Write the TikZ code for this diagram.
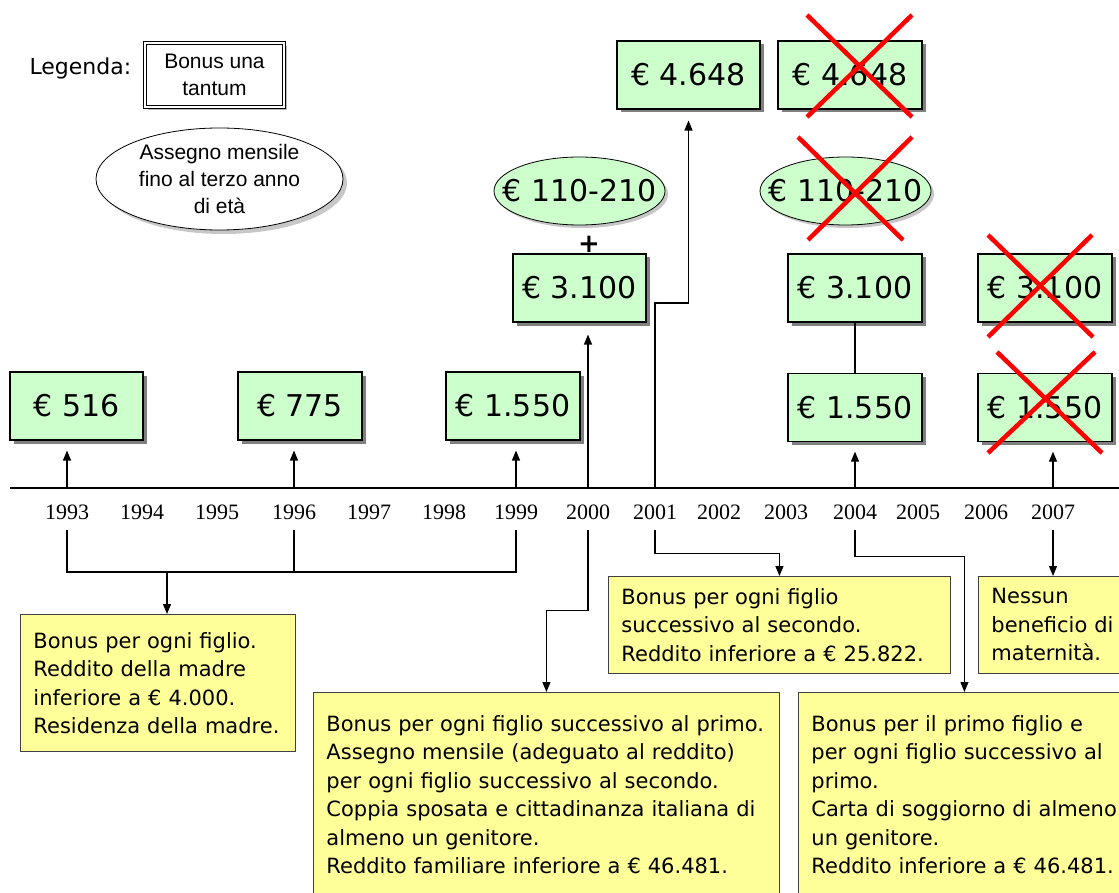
\documentclass[tikz,border=0pt]{standalone}
\usepackage{fontspec}
\setmainfont{DejaVu Sans}
\newfontfamily\arialfont{Liberation Sans}
\newfontfamily\timesfont{Liberation Serif}
\usetikzlibrary{arrows.meta, positioning, shapes.geometric, shadows}

\definecolor{verdino}{HTML}{CCFFCC}
\definecolor{giallino}{HTML}{FFFF99}
\definecolor{ombra}{HTML}{808080}

\begin{document}
\begin{tikzpicture}[
        x=1pt, y=-1pt,
        importo/.style={draw=black, line width=1.1pt, rectangle, fill=verdino, minimum width=133pt, minimum height=68pt, inner sep=0pt, font=\fontsize{30}{36}\selectfont, drop shadow={shadow xshift=3.5pt, shadow yshift=-3.5pt, fill=ombra, opacity=1}},
        mensile/.style={draw=black, line width=0.8pt, ellipse, fill=verdino, minimum width=171pt, minimum height=68pt, inner xsep=-30pt, inner ysep=0pt, font=\fontsize{30}{36}\selectfont, drop shadow={shadow xshift=3pt, shadow yshift=-3pt, fill=gray!55, opacity=0.8}},
        nota/.style={draw=black!75, line width=0.9pt, rectangle, fill=giallino, anchor=north west, align=left, inner xsep=13pt, inner ysep=0pt, font=\fontsize{21}{28.5}\selectfont},
        anno/.style={font=\timesfont\fontsize{22}{22}\selectfont, inner xsep=0pt, inner ysep=10.5pt},
        freccia/.style={-{Triangle[length=10pt, width=8pt]}, line width=1.2pt},
        linea/.style={line width=1.2pt},
        croce/.style={draw=red, line width=4.5pt}
    ]
        \useasboundingbox (0,0) rectangle (1119,893);

        % 1. Legenda
        \node[anchor=west, font=\fontsize{22}{26}\selectfont] (legenda) at (26,68) {Legenda:};
        \node[draw=black, double, double distance=2pt, line width=0.7pt, fill=white, minimum width=139pt, minimum height=64pt, align=center, font=\arialfont\fontsize{21}{27}\selectfont, drop shadow={shadow xshift=3pt, shadow yshift=-3pt, fill=gray!60, opacity=0.9}] (leg_bonus) at (214.5,75) {Bonus una\\tantum};
        \node[draw=black, line width=0.8pt, ellipse, fill=white, minimum width=247pt, minimum height=102pt, inner sep=0pt, align=center, font=\arialfont\fontsize{21}{27}\selectfont, drop shadow={shadow xshift=4pt, shadow yshift=-4pt, fill=gray!55, opacity=0.8}] (leg_assegno) at (219.5,179) {Assegno mensile\\fino al terzo anno\\di età};

        % 2. Asse del tempo
        \coordinate (inizio) at (10,488);
        \coordinate (fine) at (1125,488);
        \draw[linea] (inizio) -- (fine);
        \foreach \anno/\x in {1993/67, 1994/142, 1995/217, 1996/294, 1997/369, 1998/444, 1999/516, 2000/588, 2001/655, 2002/719, 2003/786, 2004/855, 2005/918, 2006/986, 2007/1053}
            \node[anno] (a\anno) at (\x,512) {\anno};

        % 3. Importi (bonus e assegni)
        \node[importo] (b516) at (76.5,406) {€ 516};
        \node[importo, minimum width=124pt] (b775) at (300,406) {€ 775};
        \node[importo, minimum width=134pt] (b1550a) at (513,406) {€ 1.550};
        \node[importo] (b3100a) at (579.5,288) {€ 3.100};
        \node[font=\bfseries\fontsize{26}{26}\selectfont, above=1pt of b3100a.north, xshift=9.5pt, inner sep=0pt] (piu) {+};
        \node[mensile] (m2000) at (579.5,191) {€ 110-210};
        \node[importo, minimum width=143pt] (b4648a) at (688.5,75) {€ 4.648};

        \node[importo, minimum width=144pt] (b4648b) at (850,75) {€ 4.648};
        \node[mensile] (m2004) at (845.5,191) {€ 110-210};
        \node[importo, minimum width=134pt] (b3100b) at (855,288) {€ 3.100};
        \node[importo, minimum width=134pt, below=50pt of b3100b] (b1550b) {€ 1.550};

        \node[importo, minimum width=134pt] (b3100c) at (1045,288) {€ 3.100};
        \node[importo, minimum width=134pt, below=50pt of b3100c] (b1550c) {€ 1.550};

        \draw[freccia, shorten >=10pt] (a1993 |- inizio) -- (a1993 |- b516.south);
        \draw[freccia, shorten >=10pt] (a1996 |- inizio) -- (a1996 |- b775.south);
        \draw[freccia, shorten >=10pt] (a1999 |- inizio) -- (a1999 |- b1550a.south);
        \draw[freccia, shorten >=12pt] (a2000 |- inizio) -- (a2000 |- b3100a.south);
        \draw[freccia, shorten >=11pt] (a2001 |- inizio) -- ++(0,-185) -| (b4648a.south);
        \draw[freccia, shorten >=10pt] (a2004 |- inizio) -- (a2004 |- b1550b.south);
        \draw[linea] (b3100b) -- (b1550b);
        \draw[freccia, shorten >=10pt] (a2007 |- inizio) -- (a2007 |- b1550c.south);

        % 4. Requisiti
        \node[nota, text width=249pt, minimum height=137pt] (nota1) at (20,614) {Bonus per ogni figlio.\\Reddito della madre\\inferiore a € 4.000.\\Residenza della madre.};
        \node[nota, text width=440pt, minimum height=204pt] (nota2) at (313,692) {Bonus per ogni figlio successivo al primo.\\Assegno mensile (adeguato al reddito)\\per ogni figlio successivo al secondo.\\Coppia sposata e cittadinanza italiana di\\almeno un genitore.\\Reddito familiare inferiore a € 46.481.};
        \node[nota, text width=316pt, minimum height=97pt] (nota3) at (608,576) {Bonus per ogni figlio\\successivo al secondo.\\Reddito inferiore a € 25.822.};
        \node[nota, text width=126pt, minimum height=97pt] (nota4) at (978,576) {Nessun\\beneficio di\\maternità.};
        \node[nota, text width=306pt, minimum height=204pt] (nota5) at (798,692) {Bonus per il primo figlio e\\per ogni figlio successivo al\\primo.\\Carta di soggiorno di almeno\\un genitore.\\Reddito inferiore a € 46.481.};

        \coordinate (graffa) at (167,572);
        \draw[linea] (a1993.south) |- (graffa) -| (a1999.south);
        \draw[linea] (a1996.south) -- (a1996.south |- graffa);
        \draw[freccia] (graffa) -- (graffa |- nota1.north);
        \draw[freccia] (a2000.south) -- ++(0,80) -| (nota2.north);
        \draw[freccia] (a2001.south) -- ++(0,23) -| (nota3.north);
        \draw[freccia] (a2004.south) -- ++(0,26) -| (nota5.north);
        \draw[freccia] (a2007.south) -- (a2007.south |- nota4.north);

        % 5. Benefici aboliti
        \draw[croce] (807,15) -- (912,117) (912,15) -- (807,117);
        \draw[croce] (798,137) -- (903,240) (912,137) -- (808,240);
        \draw[croce] (988,235) -- (1093,337) (1092,235) -- (988,337);
        \draw[croce] (997,352) -- (1102,453) (1095,352) -- (988,453);
    \end{tikzpicture}
\end{document}
